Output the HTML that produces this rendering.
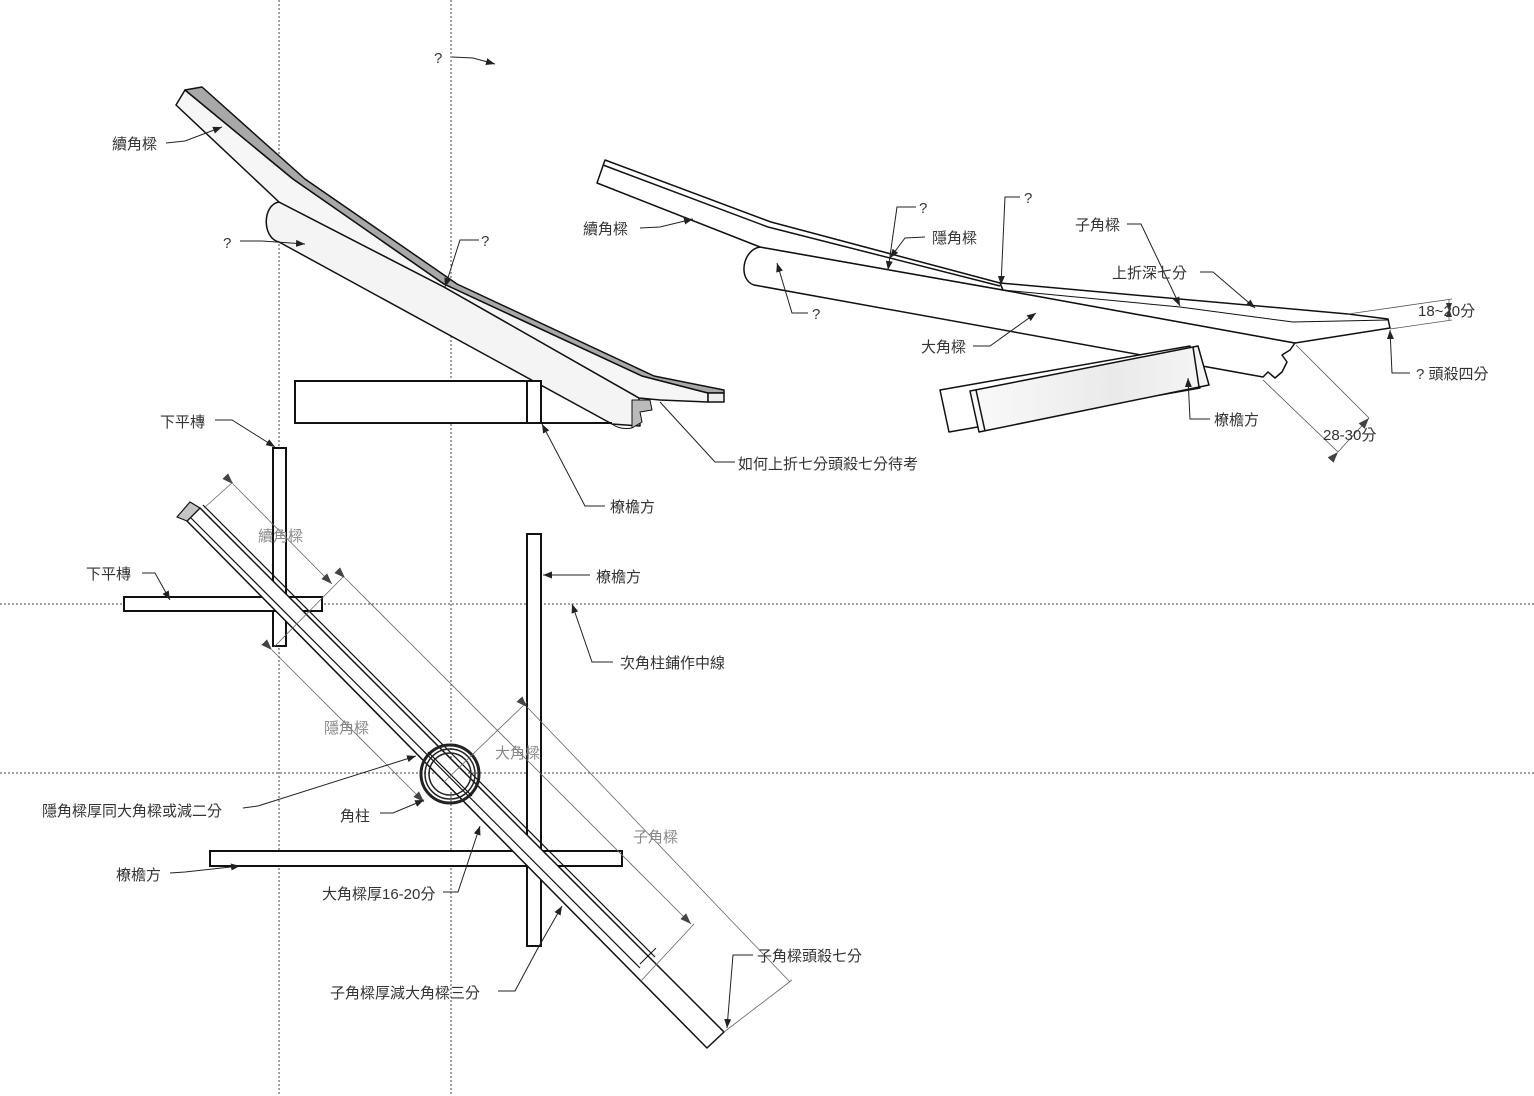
<!DOCTYPE html>
<html><head><meta charset="utf-8"><style>
html,body{margin:0;padding:0;background:#fff;}
svg{display:block;}
text{font-family:"Liberation Sans","Noto Sans CJK TC","Noto Sans CJK SC",sans-serif;font-size:15px;fill:#333;}
.g{fill:#888;}
</style></head><body>
<svg width="1534" height="1096" viewBox="0 0 1534 1096" xmlns="http://www.w3.org/2000/svg">
<defs>
<marker id="a" markerWidth="10" markerHeight="8" refX="9" refY="4" orient="auto" markerUnits="userSpaceOnUse"><path d="M0,0.5 L9,4 L0,7.5 Z" fill="#222"/></marker>
<marker id="b" markerWidth="12" markerHeight="10" refX="11" refY="5" orient="auto" markerUnits="userSpaceOnUse"><path d="M0,1 L11,5 L0,9 Z" fill="#444"/></marker>
<linearGradient id="lg" x1="0" y1="0" x2="1" y2="0"><stop offset="0" stop-color="#fafafa"/><stop offset="0.6" stop-color="#eaeaea"/><stop offset="1" stop-color="#f6f6f6"/></linearGradient>
</defs>

<g stroke="#444" stroke-width="1" stroke-dasharray="2,2" fill="none">
<line x1="279" y1="0" x2="279" y2="1096"/>
<line x1="451" y1="0" x2="451" y2="1096"/>
<line x1="0" y1="604" x2="1534" y2="604"/>
<line x1="0" y1="773" x2="1534" y2="773"/>
</g>

<g stroke="#111" stroke-width="1.5" stroke-linejoin="round">
<path d="M279,202 C262,205 262,238 279,242 L612,424 L640,426 L639,398 L444,287 Z" fill="#f4f4f4"/>
<polygon points="176,105 185,90 293,179 444,284 642,376 708,393 708,402 660,400 639,398 444,287 279,202" fill="#f6f6f6"/>
<polygon points="185,90 202,87 305,179 457,284 654,376 724,390 724,393 708,393 642,376 444,284 293,179" fill="#a8a8a8"/>
<polygon points="708,393 724,393 724,402 708,402" fill="#eee"/>
<path d="M632,400 L650,400 L652,410 L640,412 L642,422 L632,428 Z" fill="#bbb" stroke-width="1"/>
<path d="M612,424 Q620,430 632,428" fill="none" stroke-width="1"/>
</g>
<g stroke="#111" stroke-width="2" fill="#fff">
<rect x="295" y="381" width="246" height="42"/>
<line x1="527" y1="381" x2="527" y2="423"/>
<line x1="541" y1="423" x2="612" y2="423"/>
</g>

<g stroke="#222" stroke-width="1" fill="none">
<polyline points="166,143 185,141 222,127" marker-end="url(#a)"/>
<polyline points="240,241 262,241 305,244" marker-end="url(#a)"/>
<polyline points="479,240 460,240 445,287" marker-end="url(#a)"/>
<polyline points="215,420 232,420 275,447" marker-end="url(#a)"/>
<polyline points="605,506 585,506 542,424" marker-end="url(#a)"/>
<polyline points="735,462 715,462 660,402"/>
<polyline points="452,57 473,58 495,64" marker-end="url(#a)"/>
</g>
<text x="112" y="149">續角樑</text>
<text x="223" y="248">?</text>
<text x="481" y="246">?</text>
<text x="160" y="427">下平槫</text>
<text x="610" y="512">橑檐方</text>
<text x="738" y="469">如何上折七分頭殺七分待考</text>
<text x="434" y="63">?</text>

<g stroke="#111" stroke-width="1.5" stroke-linejoin="round">
<path d="M760,247 C742,250 738,280 754,285 L1263,377 L1268,372 L1275,378 L1282,372 L1287,362 L1282,355 L1290,350 L1295,343 L1003,290 Z" fill="#fff"/>
<polygon points="605,160 771,222 1000,283 1003,290 760,247 597,183" fill="#fff"/>
<line x1="603" y1="165" x2="768" y2="227"/>
<line x1="768" y1="227" x2="1000" y2="286"/>
<polygon points="1000,283 1348,314 1388,319 1390,328 1295,343 1003,290" fill="#fff"/>
<polyline points="1003,290 1180,307 1293,322 1388,320" fill="none" stroke-width="1"/>
<polygon points="940,390 1190,346 1200,388 949,432" fill="#fff"/>
<polygon points="970,391 1198,346 1209,385 979,432" fill="url(#lg)"/>
<line x1="976" y1="390" x2="985" y2="431"/>
<line x1="1193" y1="347" x2="1199" y2="387"/>
</g>
<g stroke="#222" stroke-width="1" fill="none">
<polyline points="640,228 660,227 693,219" marker-end="url(#a)"/>
<polyline points="916,207 897,207 888,270" marker-end="url(#a)"/>
<polyline points="925,237 905,238 890,258" marker-end="url(#a)"/>
<polyline points="1020,197 1005,197 1001,285" marker-end="url(#a)"/>
<polyline points="1127,224 1141,224 1180,306" marker-end="url(#a)"/>
<polyline points="1200,272 1213,272 1255,308" marker-end="url(#a)"/>
<polyline points="1410,373 1392,373 1390,330" marker-end="url(#a)"/>
<polyline points="973,346 990,346 1036,313" marker-end="url(#a)"/>
<polyline points="808,313 792,313 777,263" marker-end="url(#a)"/>
<polyline points="1210,419 1190,419 1188,378" marker-end="url(#a)"/>
</g>
<g stroke="#555" stroke-width="0.8" fill="none">
<line x1="1348" y1="314" x2="1452" y2="299"/>
<line x1="1390" y1="329" x2="1452" y2="320"/>
<line x1="1449" y1="300" x2="1449" y2="320"/>
<line x1="1296" y1="345" x2="1369" y2="418"/>
<line x1="1263" y1="380" x2="1338" y2="452"/>
<line x1="1338" y1="452" x2="1369" y2="418" marker-start="url(#b)" marker-end="url(#b)"/>
</g>
<path d="M1446,303 L1449,312 L1452,303 Z M1446,317 L1449,308 L1452,317 Z" fill="#333"/>
<text x="583" y="234">續角樑</text>
<text x="919" y="213">?</text>
<text x="932" y="243">隱角樑</text>
<text x="1024" y="203">?</text>
<text x="1075" y="230">子角樑</text>
<text x="1112" y="278">上折深七分</text>
<text x="1418" y="316">18~20分</text>
<text x="1416" y="379">? 頭殺四分</text>
<text x="921" y="352">大角樑</text>
<text x="812" y="319">?</text>
<text x="1214" y="425">橑檐方</text>
<text x="1323" y="440">28-30分</text>

<g stroke="#111" stroke-width="2" fill="#fff">
<rect x="273" y="448" width="13" height="198"/>
<rect x="124" y="597" width="198" height="14"/>
<rect x="527" y="534" width="14" height="412"/>
<rect x="210" y="851" width="412" height="15"/>
</g>
<g stroke="#111" stroke-linejoin="round">
<polygon points="187,521 200,508 724,1032 707,1048" fill="#fff" stroke-width="1.5"/>
<polygon points="177,517 190,502 200,508 187,521" fill="#c4c4c4" stroke-width="1.2"/>
<line x1="191" y1="518" x2="640" y2="968" stroke-width="1.2"/>
<line x1="203" y1="505" x2="655" y2="957" stroke-width="1.2"/>
<line x1="640" y1="964" x2="656" y2="948" stroke-width="1"/>
</g>
<g fill="none" stroke="#222">
<circle cx="450" cy="774" r="29" stroke-width="3"/>
<circle cx="450" cy="774" r="25" stroke-width="1.5"/>
<circle cx="450" cy="774" r="21" stroke-width="1.5"/>
</g>
<line x1="428" y1="752" x2="472" y2="796" stroke="#111" stroke-width="1.2"/>
<g stroke="#666" stroke-width="0.8" fill="none">
<line x1="204" y1="508" x2="233" y2="482"/>
<line x1="233" y1="484" x2="332" y2="584" marker-start="url(#b)" marker-end="url(#b)"/>
<line x1="274" y1="647" x2="344" y2="576"/>
<line x1="345" y1="578" x2="691" y2="924" marker-start="url(#b)" marker-end="url(#b)"/>
<line x1="640" y1="982" x2="694" y2="924"/>
<line x1="272" y1="650" x2="424" y2="802" marker-start="url(#b)" marker-end="url(#b)"/>
<line x1="444" y1="782" x2="527" y2="702"/>
<line x1="527" y1="707" x2="790" y2="982" marker-start="url(#b)"/>
<line x1="724" y1="1032" x2="792" y2="980"/>
</g>
<g stroke="#222" stroke-width="1" fill="none">
<polyline points="142,573 155,573 170,600" marker-end="url(#a)"/>
<polyline points="590,575 570,575 543,575" marker-end="url(#a)"/>
<polyline points="613,662 592,662 572,604" marker-end="url(#a)"/>
<polyline points="243,808 258,806 416,756" marker-end="url(#a)"/>
<polyline points="380,813 393,813 424,800" marker-end="url(#a)"/>
<polyline points="170,873 185,872 240,866" marker-end="url(#a)"/>
<polyline points="443,892 458,892 480,826" marker-end="url(#a)"/>
<polyline points="498,991 515,991 538,948 562,906" marker-end="url(#a)"/>
<polyline points="753,955 733,955 727,1028" marker-end="url(#a)"/>
</g>
<text class="g" x="258" y="541">續角樑</text>
<text class="g" x="324" y="733">隱角樑</text>
<text class="g" x="495" y="758">大角樑</text>
<text class="g" x="633" y="842">子角樑</text>
<text x="86" y="579">下平槫</text>
<text x="596" y="582">橑檐方</text>
<text x="620" y="668">次角柱鋪作中線</text>
<text x="42" y="816">隱角樑厚同大角樑或減二分</text>
<text x="340" y="821">角柱</text>
<text x="116" y="880">橑檐方</text>
<text x="322" y="899">大角樑厚16-20分</text>
<text x="330" y="998">子角樑厚減大角樑三分</text>
<text x="757" y="961">子角樑頭殺七分</text>
</svg>
</body></html>
